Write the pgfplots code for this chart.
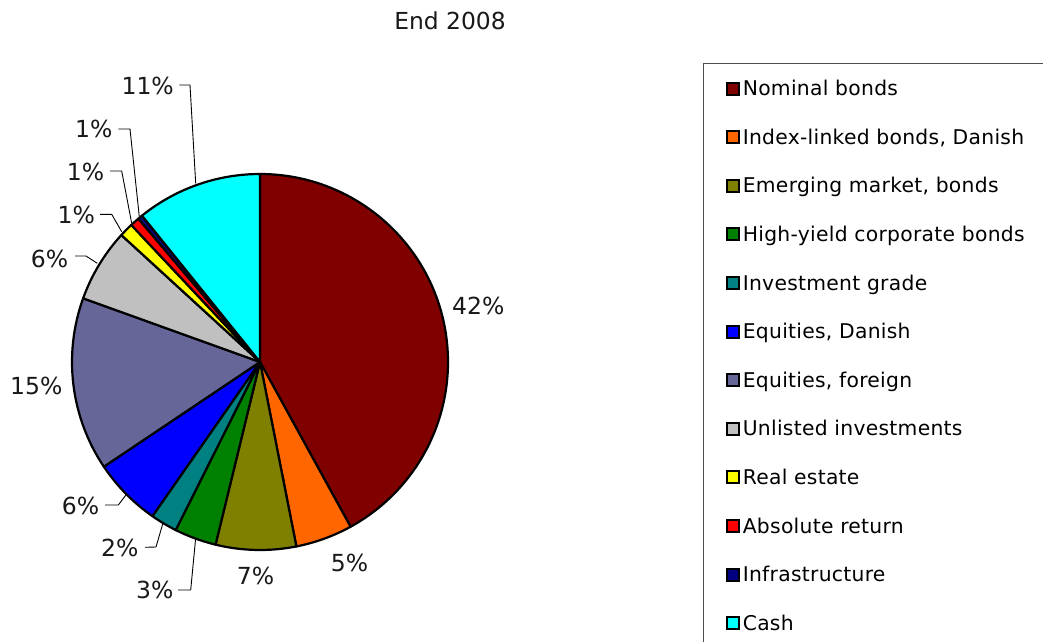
\documentclass[border=0pt]{standalone}
\usepackage{fontspec}
\setmainfont{DejaVu Sans}
\newfontfamily\legfam[LetterSpace=1.4]{DejaVu Sans}
\usepackage{pgfplots}
\usepackage{pgfplotstable}
\pgfplotsset{compat=1.18}
\definecolor{c0}{HTML}{800000}
\definecolor{c1}{HTML}{FF6600}
\definecolor{c2}{HTML}{808000}
\definecolor{c3}{HTML}{008000}
\definecolor{c4}{HTML}{008080}
\definecolor{c5}{HTML}{0000FF}
\definecolor{c6}{HTML}{666699}
\definecolor{c7}{HTML}{C0C0C0}
\definecolor{c8}{HTML}{FFFF00}
\definecolor{c9}{HTML}{FF0000}
\definecolor{c10}{HTML}{000080}
\definecolor{c11}{HTML}{00FFFF}
\newcommand\legfont{\legfam\fontsize{20.3}{24}\selectfont}
\newcommand\pctfont{\fontsize{23.5}{28}\selectfont}
\newcommand\titlefont{\fontsize{23.4}{28}\selectfont}
\pgfplotstableread{
val lab lx ly
42.0 42 478.3 335.2
4.9 5 349.5 77.7
6.9 7 255.5 65
3.6 3 154.7 51
2.3 2 119.8 93.3
5.9 6 80.5 135.3
14.9 15 36.3 255.2
6.3 6 49.5 382.2
1.2 1 76.2 426.3
0.8 1 85.5 469.3
0.4 1 93.8 512
10.8 11 147.7 555.3
}\slices
\newcommand\legsq[1]{\addlegendimage{legend image code/.code={\filldraw[fill=#1, draw=black, line width=2pt] (0pt,-6pt) rectangle (12pt,6pt); \path (15pt,0pt);}}}
\begin{document}
\begin{tikzpicture}
\begin{axis}[
  at={(0,0)}, anchor=origin,
  scale only axis, width=1043pt, height=641pt,
  xmin=0, xmax=1043, ymin=0, ymax=641,
  hide axis, clip=false,
  legend cell align=left,
  legend style={at={(axis cs:703,578)}, anchor=north west,
    draw=black!70, line width=1pt, fill=white,
    font=\legfont, inner xsep=22.8pt, inner ysep=17.85pt,
    row sep=34.3pt,
    nodes={inner sep=0pt, text height=14.3pt, text depth=0pt}},
]
\coordinate (LL) at (axis cs:0,0);
\coordinate (UR) at (axis cs:1043,641);
\pgfplotstablegetrowsof{\slices}
\pgfmathtruncatemacro\N{\pgfplotsretval-1}
\def\cum{0}
\pgfplotsforeachungrouped \i in {0,...,\N}{%
  \pgfplotstablegetelem{\i}{val}\of{\slices}\let\v\pgfplotsretval
  \pgfmathsetmacro\a{90-3.6*\cum}%
  \pgfmathsetmacro\cum{\cum+\v}%
  \pgfmathsetmacro\b{90-3.6*\cum}%
  \edef\temp{\noexpand\filldraw[fill=c\i, draw=black, line width=2.2pt, line join=round] (axis cs:260,279) -- ++(\a:188pt) arc[start angle=\a, end angle=\b, radius=188pt] -- cycle;}%
  \temp
}
\addplot[forget plot, only marks, mark=none, point meta=explicit symbolic,
  nodes near coords={\pgfplotspointmeta\%},
  nodes near coords style={anchor=center, font=\pctfont, text=black!90, inner sep=0pt}]
  table[x=lx, y=ly, meta=lab] {\slices};
\addplot[forget plot, black, line width=0.9pt] coordinates {(178,51) (190.7,51) (195.7,103.3)};
\addplot[forget plot, black, line width=0.9pt] coordinates {(145,93.7) (156,94) (162.7,117)};
\addplot[forget plot, black, line width=0.9pt] coordinates {(105,136) (118.3,136) (126.7,147)};
\addplot[forget plot, black, line width=0.9pt] coordinates {(75,385) (86,385) (97.3,377.7)};
\addplot[forget plot, black, line width=0.9pt] coordinates {(100,426.7) (111.7,426.7) (121.7,409.3)};
\addplot[forget plot, black, line width=0.9pt] coordinates {(110,470) (121.7,470) (131.7,417.7)};
\addplot[forget plot, black, line width=0.9pt] coordinates {(118.3,512) (130,512) (139.3,424.3)};
\addplot[forget plot, black, line width=0.9pt] coordinates {(179.3,556) (190,556) (195.7,457.7)};
\node[font=\titlefont, anchor=base, text=black!90] at (axis cs:450,611) {End 2008};
\legsq{c0}\addlegendentry{Nominal bonds}
\legsq{c1}\addlegendentry{Index-linked bonds, Danish}
\legsq{c2}\addlegendentry{Emerging market, bonds}
\legsq{c3}\addlegendentry{High-yield corporate bonds}
\legsq{c4}\addlegendentry{Investment grade}
\legsq{c5}\addlegendentry{Equities, Danish}
\legsq{c6}\addlegendentry{Equities, foreign}
\legsq{c7}\addlegendentry{Unlisted investments}
\legsq{c8}\addlegendentry{Real estate}
\legsq{c9}\addlegendentry{Absolute return}
\legsq{c10}\addlegendentry{Infrastructure}
\legsq{c11}\addlegendentry{Cash}
\end{axis}
\pgfresetboundingbox
\path[use as bounding box] (LL) rectangle (UR);
\end{tikzpicture}
\end{document}
